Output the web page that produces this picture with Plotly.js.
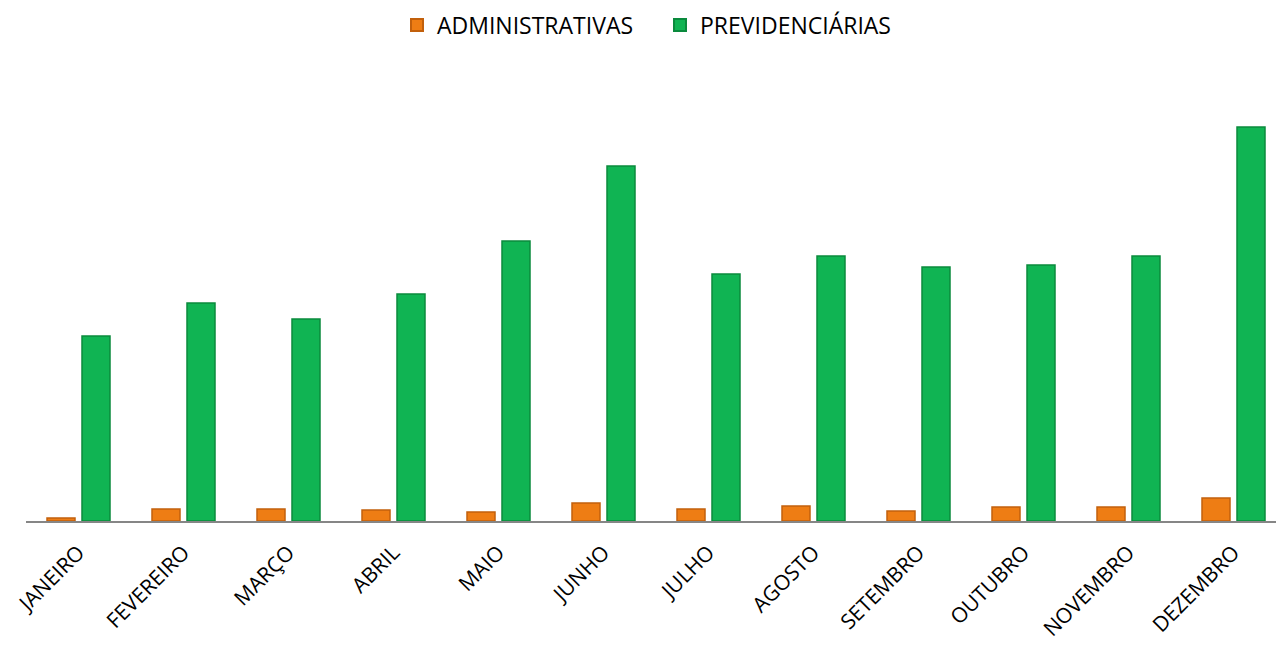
<!DOCTYPE html>
<html><head><meta charset="utf-8">
<script src="https://cdn.plot.ly/plotly-3.0.1.min.js"></script>
<style>html,body{margin:0;padding:0;overflow:hidden;background:#fff}</style>
</head><body><div id="chart"></div>
<script>
const months = ["JANEIRO","FEVEREIRO","MARÇO","ABRIL","MAIO","JUNHO","JULHO","AGOSTO","SETEMBRO","OUTUBRO","NOVEMBRO","DEZEMBRO"];
const administrativas = [3,12,12,11,9,18,12,15,10,14,14,23];
const previdenciarias = [185,218,202,227,280,355,247,265,254,256,265,394];

const data = [
  {type:'bar', name:'ADMINISTRATIVAS', x:months, y:administrativas,
   marker:{color:'#ee7d14', line:{color:'#c2600c', width:1.5}}, hoverinfo:'x+y'},
  {type:'bar', name:'PREVIDENCIÁRIAS', x:months, y:previdenciarias,
   marker:{color:'#10b453', line:{color:'#0a8a3d', width:1.5}}, hoverinfo:'x+y'}
];
const layout = {
  width:1286, height:645,
  margin:{l:26, r:0, t:121, b:124, autoexpand:false},
  barmode:'group', bargap:0.3333, bargroupgap:0.2,
  paper_bgcolor:'#fff', plot_bgcolor:'#fff',
  font:{family:'Open Sans, sans-serif', color:'#000'},
  showlegend:true,
  legend:{orientation:'h', x:(437-40-26)/1260, xanchor:'left', y:1 - 25/645, yanchor:'middle',
          yref:'container', font:{size:23}, itemwidth:30, entrywidth:218, entrywidthmode:'pixels',
          traceorder:'normal', itemsizing:'constant'},
  xaxis:{tickangle:-45, tickfont:{size:21}, showline:true, linecolor:'#868686', linewidth:2,
         ticks:'outside', ticklen:9, tickcolor:'rgba(0,0,0,0)', showgrid:false, zeroline:false, fixedrange:true, automargin:false},
  yaxis:{range:[0,400], visible:false, showgrid:false, zeroline:false, fixedrange:true}
};
Plotly.newPlot('chart', data, layout, {displayModeBar:false, staticPlot:true});
</script></body></html>
